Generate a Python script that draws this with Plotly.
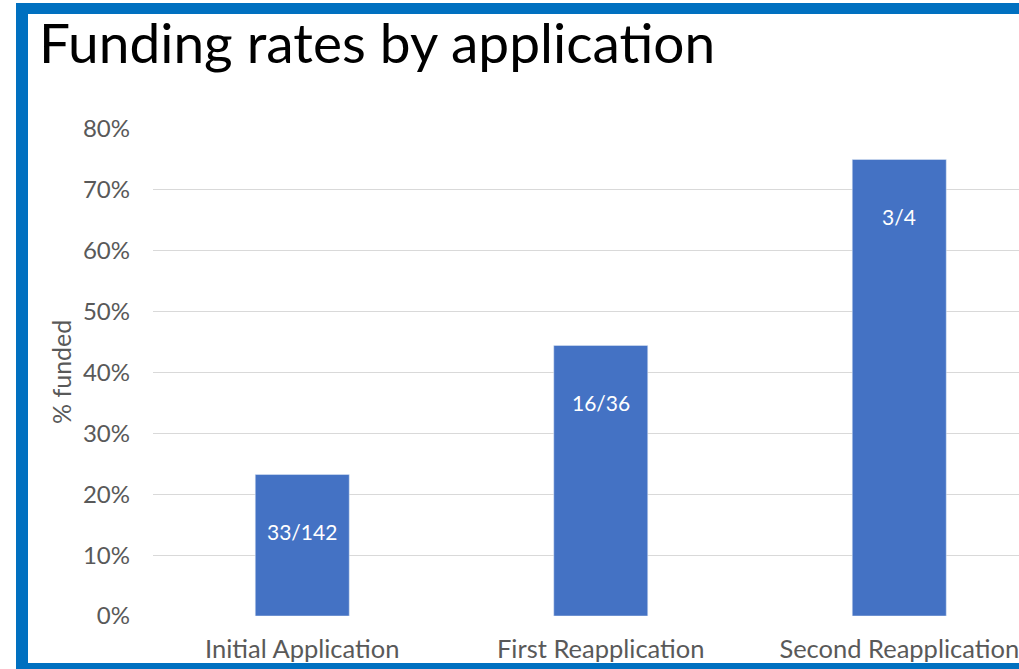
import plotly.graph_objects as go

categories = ["Initial Application", "First Reapplication", "Second Reapplication"]
funded = [33, 16, 3]
applied = [142, 36, 4]
rates = [f / a for f, a in zip(funded, applied)]
labels = [f"{f}/{a}" for f, a in zip(funded, applied)]
y_ticks = [0, 0.1, 0.2, 0.3, 0.4, 0.5, 0.6, 0.7, 0.8]
y_ticktext = [f"{int(round(t*100))}%" for t in y_ticks]

W, H = 1019, 669
L, R, T, B = 153, 0, 129, 53
PW, PH = W - L - R, H - T - B

def px(x):
    return (x - L) / PW

def py(y):
    return (H - B - y) / PH

FONT = "Lato"
fig = go.Figure()
fig.add_trace(go.Bar(
    x=categories, y=rates, marker_color="#4472C4", width=0.315,
    hoverinfo="skip",
))

annotations = []
for c, r, lab in zip(categories, rates, labels):
    annotations.append(dict(x=c, y=r, xref="x", yref="y", text=lab, showarrow=False,
                            yshift=-57, font=dict(family=FONT, size=21, color="white")))

annotations.append(dict(x=px(37), y=py(62), xref="paper", yref="paper", text="Funding rates by application",
                        showarrow=False, xanchor="left", yanchor="bottom", yshift=-15,
                        font=dict(family=FONT, size=55, color="black")))
annotations.append(dict(x=px(61), y=py(372), xref="paper", yref="paper", text="% funded",
                        showarrow=False, textangle=-90, xanchor="center", yanchor="middle",
                        font=dict(family=FONT, size=25, color="#595959")))

shapes = []
blue = "#0070C0"
# top border
shapes.append(dict(type="rect", xref="paper", yref="paper", x0=px(16), x1=px(W + 5), y0=py(14), y1=py(3),
                   fillcolor=blue, line=dict(width=0), layer="above"))
# left border
shapes.append(dict(type="rect", xref="paper", yref="paper", x0=px(16), x1=px(28), y0=py(H + 5), y1=py(3),
                   fillcolor=blue, line=dict(width=0), layer="above"))
# bottom border
shapes.append(dict(type="rect", xref="paper", yref="paper", x0=px(16), x1=px(W + 5), y0=py(H + 5), y1=py(663),
                   fillcolor=blue, line=dict(width=0), layer="above"))

fig.update_layout(
    width=W, height=H,
    margin=dict(l=L, r=R, t=T, b=B, pad=0),
    paper_bgcolor="white", plot_bgcolor="white",
    showlegend=False,
    annotations=annotations,
    shapes=shapes,
    xaxis=dict(range=[-0.5, -0.5 + PW / 298.5], showgrid=False, showline=False, zeroline=False,
               tickfont=dict(family=FONT, size=25.5, color="#595959"), ticks="", ticklabelstandoff=15),
    yaxis=dict(range=[0, 0.8], tickvals=y_ticks, ticktext=y_ticktext, showgrid=True,
               gridcolor="#D9D9D9", gridwidth=1, zeroline=False, showline=False, ticks="",
               tickfont=dict(family=FONT, size=24, color="#595959"), ticklabelstandoff=22),
)

fig.write_html("out.html", config={"displayModeBar": False},
               post_script="document.body.style.margin='0';document.body.style.overflow='hidden';")
